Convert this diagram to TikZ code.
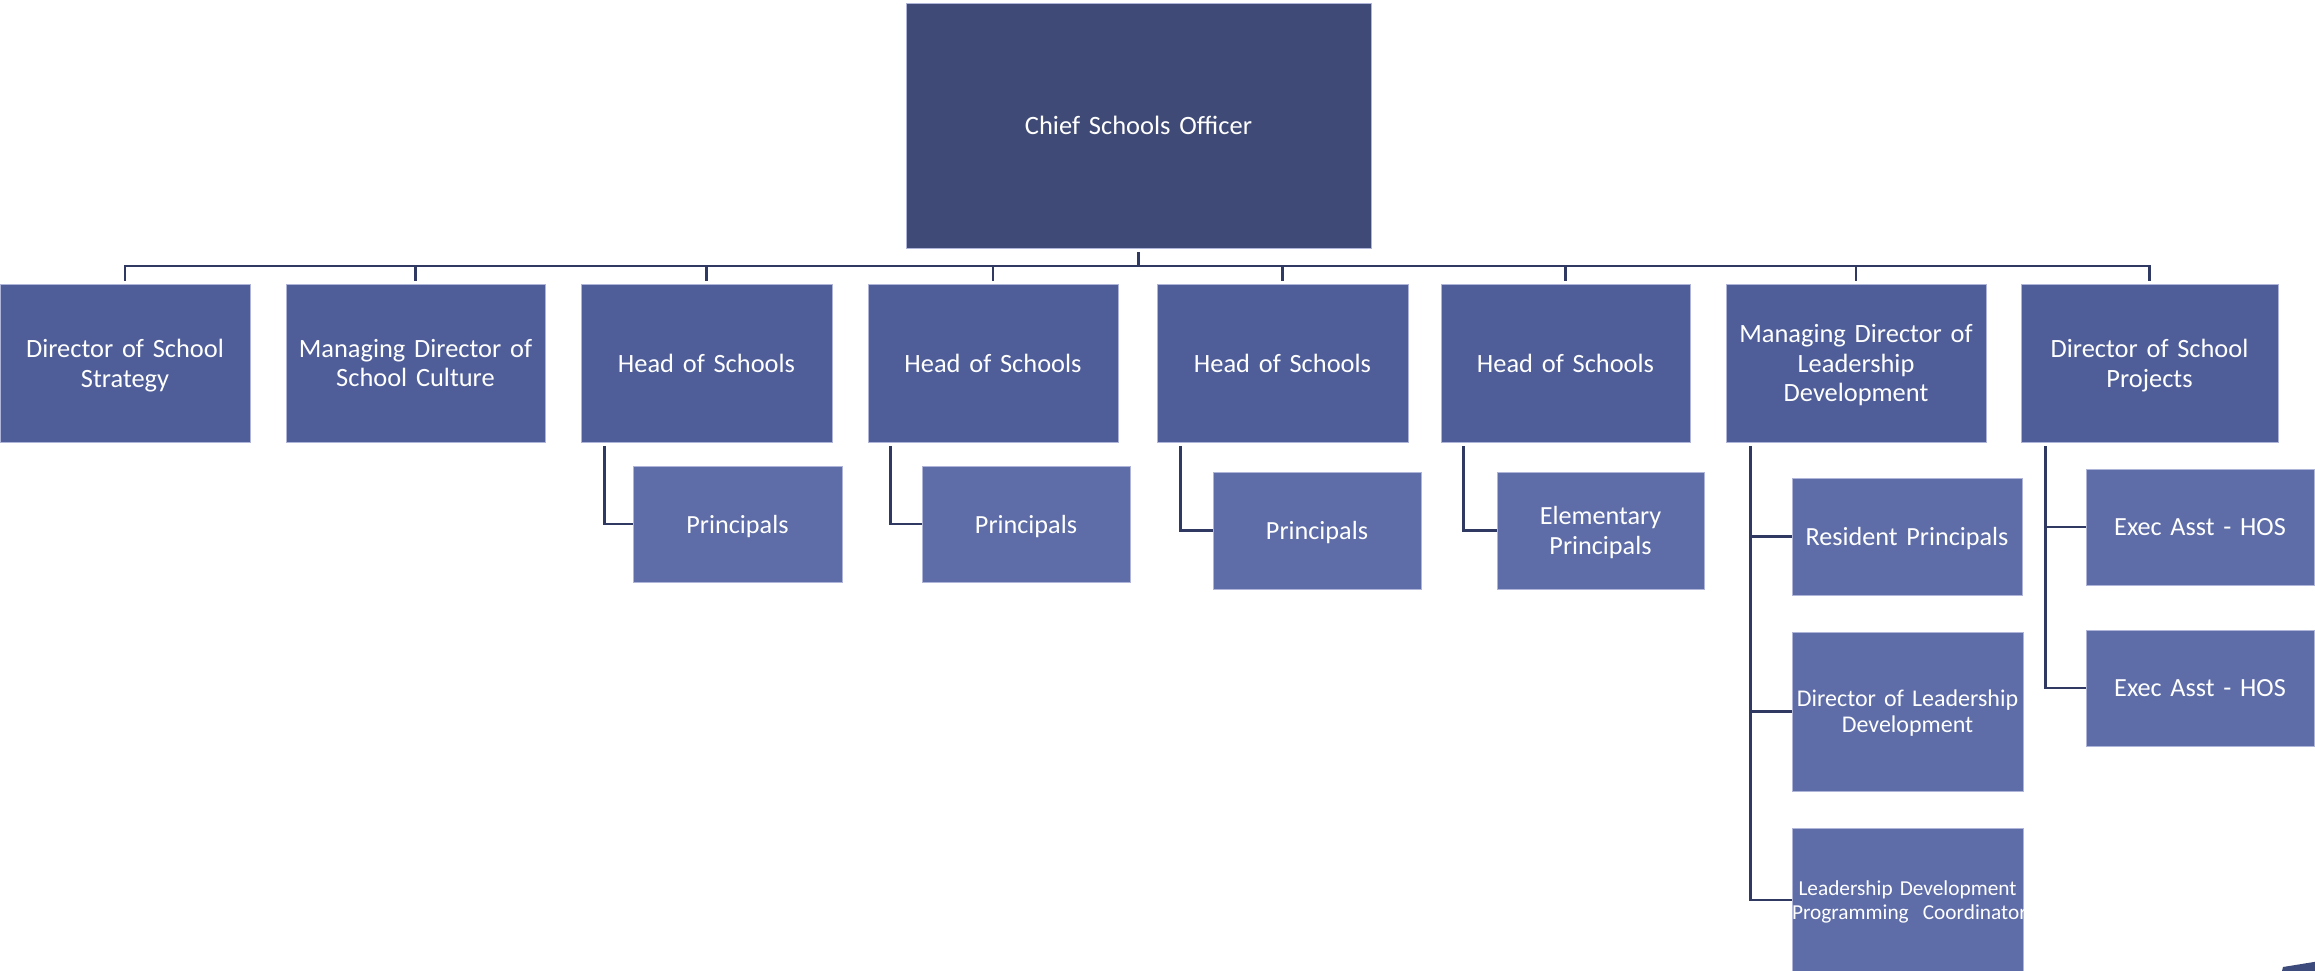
\documentclass[tikz,border=0pt]{standalone}
\usepackage{fontspec}
\setmainfont{Carlito}
\definecolor{ctop}{HTML}{3F4A76}
\definecolor{cone}{HTML}{4F5E98}
\definecolor{csub}{HTML}{5E6DA8}
\definecolor{boxline}{HTML}{AEB5D8}
\definecolor{cline}{HTML}{2F3962}
\definecolor{ccorner}{HTML}{3C4A7C}
\begin{document}
\begin{tikzpicture}[x=1pt,y=-1pt,
  box/.style={rectangle, draw=boxline, line width=0.9pt, text=white, align=center,
    inner xsep=0pt, inner ysep=0pt, anchor=center},
  topbox/.style 2 args={box, fill=ctop, text width=#1, minimum width=#1, minimum height=#2,
    font=\fontsize{26.5}{31}\selectfont},
  lone/.style 2 args={box, fill=cone, text width=#1, minimum width=#1, minimum height=#2,
    font=\fontsize{26.4}{29.8}\selectfont},
  lsub/.style 2 args={box, fill=csub, text width=#1, minimum width=#1, minimum height=#2,
    font=\fontsize{26.2}{29.5}\selectfont},
  conn/.style={draw=cline, line width=2.8pt, line join=miter}
]
\useasboundingbox (0,0) rectangle (2315,971);
\fill[white] (0,0) rectangle (2315,971);

% top
\node[topbox={465pt}{245pt}, text depth=0pt] (cso) at (1138.5,125.5) {Chief Schools Officer};

% level one
\node[lone={250pt}{158pt}, text depth=29.8pt] (b1) at (125,363) {Director of School\\Strategy};
\node[lone={259pt}{158pt}, text depth=29.8pt] (b2) at (415.5,363) {Managing Director of\\School Culture};
\node[lone={251pt}{158pt}, text depth=0pt] (b3) at (706.5,363) {Head of Schools};
\node[lone={250pt}{158pt}, text depth=0pt] (b4) at (993,363) {Head of Schools};
\node[lone={251pt}{158pt}, text depth=0pt] (b5) at (1282.5,363) {Head of Schools};
\node[lone={249pt}{158pt}, text depth=0pt] (b6) at (1565.5,363) {Head of Schools};
\node[lone={260pt}{158pt}, text depth=59.6pt] (b7) at (1856,363) {Managing Director of\\Leadership\\Development};
\node[lone={257pt}{158pt}, text depth=29.8pt] (b8) at (2149.5,363) {Director of School\\Projects};

% level two
\node[lsub={209pt}{116pt}, text depth=0pt] (p1) at (737.5,524) {Principals};
\node[lsub={208pt}{116pt}, text depth=0pt] (p2) at (1026,524) {Principals};
\node[lsub={208pt}{117pt}, text depth=0pt] (p3) at (1317,530.5) {Principals};
\node[lsub={207pt}{117pt}, text depth=29.5pt] (ep) at (1600.5,530.5) {Elementary\\Principals};
\node[lsub={230pt}{117pt}, text depth=0pt] (rp) at (1907,536.5) {Resident Principals};
\node[lsub={231pt}{159pt}, font=\fontsize{24}{26}\selectfont, text depth=26pt] (dld) at (1907.5,711.5) {Director of Leadership\\Development};
\node[lsub={231pt}{144pt}, font=\fontsize{21.3}{24.3}\selectfont, text depth=24.3pt] (ldpc) at (1907.5,900) {Leadership Development\\\mbox{Programming\ \ Coordinator}};
\node[lsub={228pt}{116pt}, text depth=0pt] (e1) at (2200,527) {Exec Asst - HOS};
\node[lsub={228pt}{116pt}, text depth=0pt] (e2) at (2200,688) {Exec Asst - HOS};

% bus
\coordinate (bus) at (0,266);
\draw[conn] ([yshift=-4pt]cso.south) -- (cso.south |- bus);
\draw[conn] ([yshift=3pt]b1.north) |- (b8.north |- bus) -- ([yshift=3pt]b8.north);
\foreach \b in {b2,b3,b4,b5,b6,b7}
  \draw[conn] (\b.north |- bus) -- ([yshift=3pt]\b.north);

% sub connectors
\draw[conn] ([xshift=24pt,yshift=-4pt]b3.south west) |- (p1.west);
\draw[conn] ([xshift=23pt,yshift=-4pt]b4.south west) |- (p2.west);
\draw[conn] ([xshift=24pt,yshift=-4pt]b5.south west) |- (p3.west);
\draw[conn] ([xshift=23pt,yshift=-4pt]b6.south west) |- (ep.west);

\coordinate (t7) at ([xshift=25pt,yshift=-4pt]b7.south west);
\draw[conn] (t7) |- (ldpc.west);
\draw[conn] (t7 |- rp.west) -- (rp.west);
\draw[conn] (t7 |- dld.west) -- (dld.west);

\coordinate (t8) at ([xshift=25pt,yshift=-4pt]b8.south west);
\draw[conn] (t8) |- (e2.west);
\draw[conn] (t8 |- e1.west) -- (e1.west);

% corner sliver
\fill[ccorner] (2281,975) -- (2283,967) -- (2320,961) -- (2320,975) -- cycle;
\end{tikzpicture}
\end{document}
